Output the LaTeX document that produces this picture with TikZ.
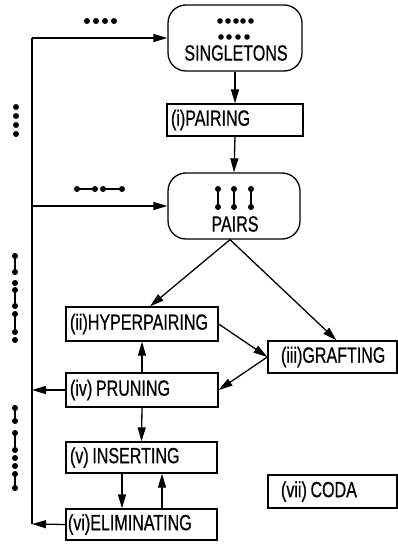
\documentclass[tikz,border=0pt]{standalone}
\usepackage{fontspec}
\setmainfont{Liberation Sans}[FakeStretch=0.73,FakeBold=0.6]
\usetikzlibrary{arrows.meta,calc}
\begin{document}
\begin{tikzpicture}[x=1pt,y=-1pt,
  every node/.style={font=\fontsize{22pt}{24pt}\selectfont},
  box/.style={draw, line width=1.3pt, inner ysep=0pt, align=left},
  pill/.style={draw, line width=1.3pt, rounded corners=18pt},
  arr/.style={line width=1.3pt, -{Triangle[length=14pt,width=8pt]}},
  wire/.style={line width=1.3pt},
  chain/.style={line width=1.5pt}]
\useasboundingbox (0,0) rectangle (398,545);

% nodes
\node[pill, minimum width=134pt, minimum height=66pt] (sing) at (235,38) {};
\node (singt) at (236,53) {SINGLETONS};
\node[box, minimum height=32pt, inner xsep=4pt, text width=128pt] (pairing) at (235,120) {(i)PAIRING};
\node[pill, minimum width=132pt, minimum height=66pt] (pairs) at (234,206) {};
\node (pairst) at (235,224) {PAIRS};
\node[box, minimum height=34pt, inner xsep=4pt, text width=144pt] (hyper) at (142,324) {(ii)HYPERPAIRING};
\node[box, minimum height=32pt, inner xsep=13pt, text width=103pt] (graft) at (332.5,357) {(iii)GRAFTING};
\node[box, minimum height=34pt, inner xsep=4pt, text width=144pt] (prune) at (142,390) {(iv)\,PRUNING};
\node[box, minimum height=31pt, inner xsep=4pt, text width=143pt] (insert) at (141.5,457.5) {(v)\,INSERTING};
\node[box, minimum height=31pt, inner xsep=2pt, text width=147pt] (elim) at (141.5,524.5) {(vi)ELIMINATING};
\node[box, minimum height=33pt, inner xsep=13pt, text width=103pt] (coda) at (332.5,491.5) {(vii)\,CODA};

% bus coordinates
\coordinate (bt) at (32,38);
\coordinate (bb) at (32,524);
\coordinate (bp) at (32,206);
\coordinate (bpr) at (32,390);

% connectors
\draw[wire] (bt) -- (bb);
\draw[arr] (bt) -- (sing.west);
\draw[arr] (bp) -- (pairs.west);
\draw[arr] (prune.west) -- (bpr);
\draw[arr] (elim.west) -- (bb);
\draw[arr] (sing.south) -- (pairing.north);
\draw[arr] (pairing.south) -- (pairs.north);
\draw[arr] ([xshift=-4pt]pairs.south) -- ([xshift=8pt]hyper.north);
\draw[arr] ([xshift=-4pt]pairs.south) -- ([xshift=4pt]graft.north);
\draw[arr] (hyper.east) -- (graft.west);
\draw[arr] (graft.west) -- (prune.east);
\draw[arr] (prune.north) -- (hyper.south);
\draw[arr] (prune.south) -- (insert.north);
\draw[arr] ([xshift=-19.5pt]insert.south) -- ([xshift=-19.5pt]elim.north);
\draw[arr] ([xshift=20.5pt]elim.north) -- ([xshift=20.5pt]insert.south);

% dot labels
\foreach \x in {87,96,105,114} \fill (\x,21) circle (3pt);
\foreach \x in {77,95,103,122} \fill (\x,189) circle (3pt);
\draw[chain] (77,189) -- (95,189) (103,189) -- (122,189);

% singletons dots
\foreach \x in {220,228,236,243,251} \fill (\x,21) circle (2.8pt);
\foreach \x in {221,229,238,247} \fill (\x,37) circle (2.8pt);

% pairs dots
\foreach \x in {218,234,251} {
  \fill (\x,189) circle (3pt);
  \fill (\x,207) circle (3pt);
  \draw[chain] (\x,189) -- (\x,207);
}

% vertical chains
\foreach \y in {107,116,125,134} \fill (16,\y) circle (3pt);
\foreach \y in {256,272,283,290,306,314,332,340} \fill (15,\y) circle (3pt);
\draw[chain] (15,256) -- (15,272) (15,290) -- (15,306) (15,314) -- (15,332);
\foreach \y in {408,421,433,450,458,466,474,488} \fill (15,\y) circle (3pt);
\draw[chain] (15,408) -- (15,421) (15,433) -- (15,450) (15,474) -- (15,488);
\end{tikzpicture}
\end{document}
